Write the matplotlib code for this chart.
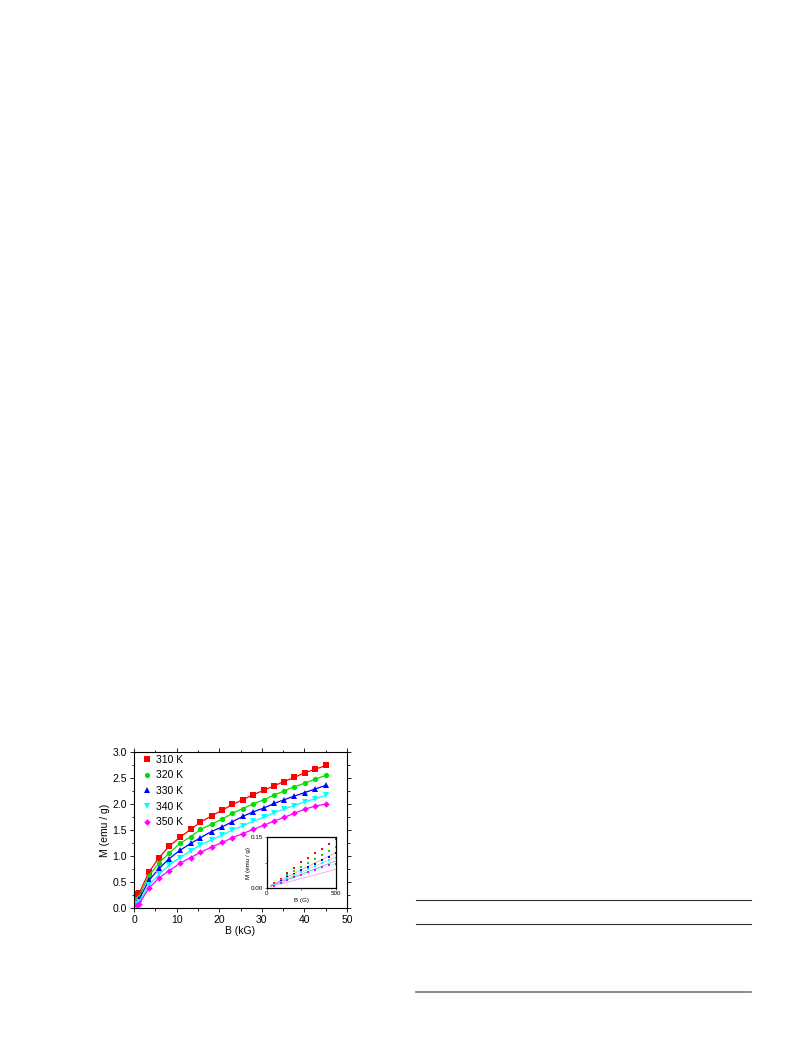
import numpy as np
import matplotlib.pyplot as plt
from matplotlib.lines import Line2D
from matplotlib.ticker import MultipleLocator

plt.rcParams['font.family'] = ['Liberation Sans', 'DejaVu Sans']

# Datos principales (B en kG, M en emu/g)
temps = ['310 K', '320 K', '330 K', '340 K', '350 K']
colores = ['#ff0000', '#00e000', '#0000ff', '#00ffff', '#ff00ff']
marcadores = ['s', 'o', '^', 'v', 'D']

B = [0.6, 1.2, 3.5, 5.9, 8.3, 10.8, 13.3, 15.6, 18.2, 20.7, 23.1, 25.5,
     28.0, 30.4, 32.9, 35.2, 37.6, 40.1, 42.6, 45.1]
M_310 = [0.27, 0.28, 0.69, 0.97, 1.19, 1.36, 1.51, 1.65, 1.77, 1.88, 1.99, 2.08,
         2.18, 2.26, 2.35, 2.43, 2.51, 2.60, 2.67, 2.74]
M_320 = [0.17, 0.22, 0.62, 0.87, 1.06, 1.24, 1.37, 1.51, 1.61, 1.71, 1.82, 1.91,
         2.00, 2.08, 2.17, 2.25, 2.33, 2.40, 2.48, 2.55]
M_330 = [0.12, 0.17, 0.53, 0.76, 0.95, 1.11, 1.24, 1.35, 1.47, 1.56, 1.66, 1.76,
         1.85, 1.92, 2.01, 2.08, 2.15, 2.22, 2.29, 2.36]
M_340 = [0.08, 0.12, 0.44, 0.65, 0.83, 0.97, 1.10, 1.21, 1.31, 1.40, 1.50, 1.58,
         1.67, 1.74, 1.83, 1.90, 1.97, 2.04, 2.10, 2.17]
M_350 = [0.05, 0.08, 0.38, 0.58, 0.72, 0.86, 0.97, 1.07, 1.17, 1.26, 1.35, 1.43,
         1.51, 1.59, 1.67, 1.74, 1.82, 1.90, 1.96, 2.00]
series = [M_310, M_320, M_330, M_340, M_350]

# Datos del inset (B en G)
B_ins = [50, 100, 150, 200, 250, 300, 350, 400, 450, 500]
m_ins = [
    [0.014, 0.027, 0.043, 0.060, 0.076, 0.089, 0.103, 0.116, 0.130, 0.143],
    [0.012, 0.023, 0.037, 0.050, 0.063, 0.075, 0.086, 0.098, 0.110, 0.121],
    [0.010, 0.020, 0.032, 0.042, 0.052, 0.062, 0.072, 0.082, 0.092, 0.102],
    [0.009, 0.018, 0.028, 0.037, 0.046, 0.055, 0.064, 0.073, 0.081, 0.087],
    [0.007, 0.015, 0.023, 0.031, 0.038, 0.046, 0.054, 0.061, 0.068, 0.071],
]
# Rectas del ajuste en el inset (extremos)
B_fit_ins = [30, 500]
m_fit_ins = [[0.008, 0.105], [0.007, 0.091], [0.006, 0.080],
             [0.005, 0.073], [0.004, 0.055]]

fig = plt.figure(figsize=(7.93, 10.57), dpi=100)
ax = fig.add_axes([0.169, 0.141, 0.2686, 0.1476])

for M, c, mk, t in zip(series, colores, marcadores, temps):
    ax.plot([0] + B, [0] + M, '-', color=c, lw=0.9)
    ax.plot(B, M, mk, color=c, ms=3.8 if mk != 'D' else 3.3, mew=0,
            ls='none', label=t)

ax.set_xlim(0, 50)
ax.set_ylim(0, 3.0)
ax.xaxis.set_major_locator(MultipleLocator(10))
ax.xaxis.set_minor_locator(MultipleLocator(5))
ax.yaxis.set_major_locator(MultipleLocator(0.5))
ax.yaxis.set_minor_locator(MultipleLocator(0.25))
ax.tick_params(which='both', direction='out', labelsize=7.5, width=0.6,
               top=True, right=True, pad=2)
ax.tick_params(which='major', length=3)
ax.tick_params(which='minor', length=1.8)
ax.set_xlabel('B (kG)', fontsize=7.5, labelpad=1)
ax.set_ylabel('M (emu / g)', fontsize=7.5, labelpad=2)
for s in ax.spines.values():
    s.set_linewidth(0.8)
ax.legend(loc='upper left', frameon=False, fontsize=7.5, handlelength=0.6,
          handletextpad=0.6, labelspacing=0.55, borderaxespad=0.0,
          markerscale=1.0, bbox_to_anchor=(0.025, 1.01))

# Inset
axi = fig.add_axes([0.3363, 0.1599, 0.0874, 0.0482])
for m, mf, c in zip(m_ins, m_fit_ins, colores):
    axi.plot(B_fit_ins, mf, '-', color=c, lw=0.6, alpha=0.4)
    axi.plot(B_ins, m, 's', color=c, ms=1.7, mew=0, ls='none')
axi.set_xlim(0, 500)
axi.set_ylim(0, 0.15)
axi.set_xticks([0, 500])
axi.set_yticks([0, 0.15])
axi.set_xticklabels(['0', '500'])
axi.set_yticklabels(['0.00', '0.15'])
axi.xaxis.set_minor_locator(MultipleLocator(250))
axi.yaxis.set_minor_locator(MultipleLocator(0.075))
axi.tick_params(which='both', direction='out', labelsize=4.5, width=0.4,
                length=1.5, pad=1)
axi.set_xlabel('B (G)', fontsize=4.5, labelpad=1)
axi.set_ylabel('M (emu / g)', fontsize=4.5, labelpad=0)
for s in axi.spines.values():
    s.set_linewidth(0.9)

# Lineas de la tabla a la derecha
for y, lw, col in [(900, 0.8, '#333333'), (924, 0.8, '#333333'), (992, 1.2, '#777777')]:
    fig.add_artist(Line2D([416 / 793, 751 / 793], [1 - y / 1057, 1 - y / 1057],
                          color=col, lw=lw))

fig.savefig('out.png', dpi=100)
